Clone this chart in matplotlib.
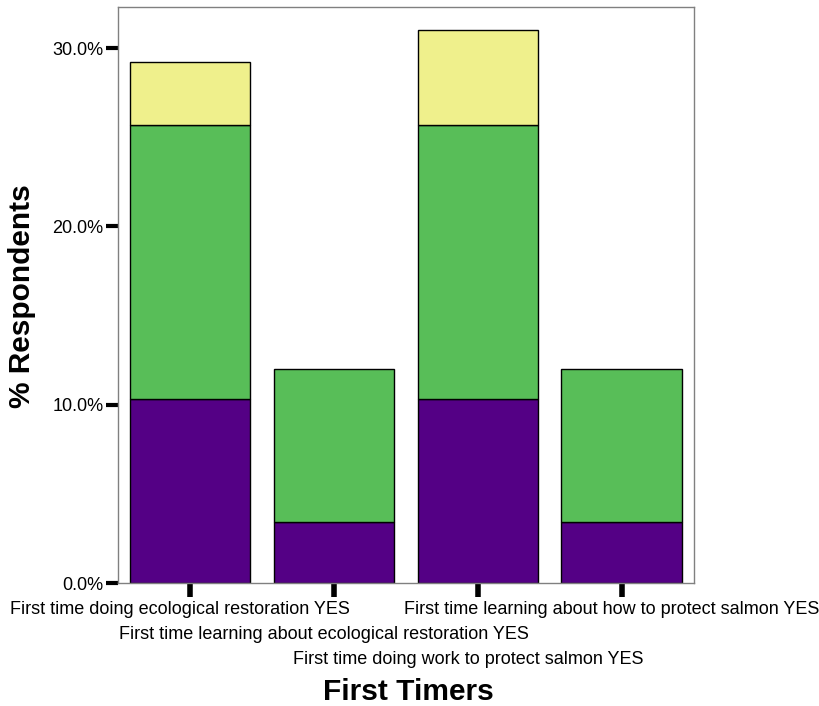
import numpy as np
import matplotlib
matplotlib.use("Agg")
import matplotlib.pyplot as plt
import matplotlib.transforms as mtransforms

plt.rcParams['font.family'] = ['Liberation Sans', 'DejaVu Sans']

# Data (percent of respondents, stacked segments)
categories = [
    "First time doing ecological restoration YES",
    "First time learning about ecological restoration YES",
    "First time doing work to protect salmon YES",
    "First time learning about how to protect salmon YES",
]
purple_vals = [10.3, 3.4, 10.3, 3.4]
green_vals = [15.4, 8.6, 15.4, 8.6]
yellow_vals = [3.5, 0.0, 5.3, 0.0]
y_ticks = [0, 10, 20, 30]
y_tick_labels = ["0.0%", "10.0%", "20.0%", "30.0%"]

fig = plt.figure(figsize=(8.2, 7.06), dpi=100)
ax = fig.add_axes([0.1439, 0.1742, 0.7024, 0.8159])

x = np.arange(len(categories))
w = 0.84
purple = np.array(purple_vals)
green = np.array(green_vals)
yellow = np.array(yellow_vals)

ax.bar(x, purple, w, color="#540085", edgecolor="black", linewidth=1)
ax.bar(x, green, w, bottom=purple, color="#58be58", edgecolor="black", linewidth=1)
mask = yellow > 0
ax.bar(x[mask], yellow[mask], w, bottom=(purple + green)[mask],
       color="#eff08c", edgecolor="black", linewidth=1)

ax.set_xlim(-0.5, 3.5)
ax.set_ylim(0, 32.3)

ax.set_yticks(y_ticks)
ax.set_yticklabels(y_tick_labels, fontsize=13)
ax.set_xticks(x)
ax.set_xticklabels(categories, fontsize=13)

ax.tick_params(axis="y", length=9, width=3, direction="out", pad=1.5)
ax.tick_params(axis="x", length=10, width=4, direction="out", pad=3)

# stagger the category labels over three rows
rows = [0, 1, 2, 0]
for lab, r in zip(ax.get_xticklabels(), rows):
    off = mtransforms.ScaledTranslation(-10 / 100, -r * 25 / 100, fig.dpi_scale_trans)
    lab.set_transform(lab.get_transform() + off)

for s in ax.spines.values():
    s.set_color("#808080")
    s.set_linewidth(1)

fig.text(22 / 820, 1 - 296 / 706, "% Respondents", fontsize=21.5, fontweight="bold",
         rotation=90, ha="center", va="center")
fig.text(408 / 820, 1 - 692 / 706, "First Timers", fontsize=21.5, fontweight="bold",
         ha="center", va="center")

fig.savefig("out.png", dpi=100)
